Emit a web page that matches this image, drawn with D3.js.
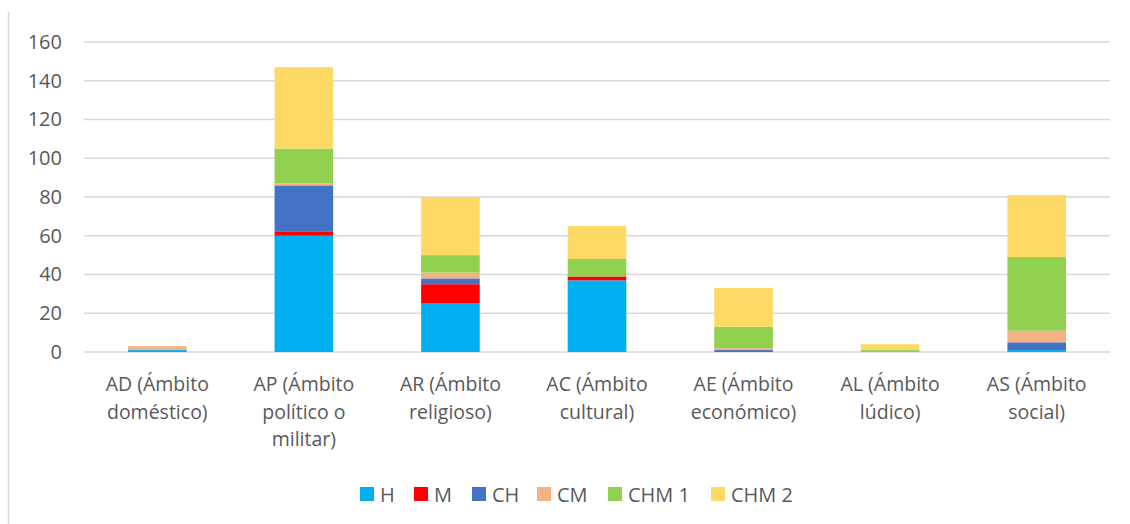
<!DOCTYPE html>
<html>
<head>
<meta charset="utf-8">
<script src="https://cdn.jsdelivr.net/npm/d3@7"></script>
<style>
  body { margin: 0; background: #fff; }
  text { font-family: "Open Sans", "Noto Sans", "DejaVu Sans", sans-serif; fill: #595959; }
</style>
</head>
<body>
<div id="chart"></div>
<script>
// Chart data
var categories = [
  ["AD (Ámbito", "doméstico)"],
  ["AP (Ámbito", "político o", "militar)"],
  ["AR (Ámbito", "religioso)"],
  ["AC (Ámbito", "cultural)"],
  ["AE (Ámbito", "económico)"],
  ["AL (Ámbito", "lúdico)"],
  ["AS (Ámbito", "social)"]
];
var seriesNames = ["H", "M", "CH", "CM", "CHM 1", "CHM 2"];
var seriesColors = ["#00B0F0", "#FF0000", "#4472C4", "#F4B183", "#92D050", "#FFD966"];
var valH    = [1, 60, 25, 37, 0, 0, 1];
var valM    = [0, 2, 10, 2, 0, 0, 0];
var valCH   = [0, 24, 3, 0, 1, 0, 4];
var valCM   = [2, 1, 3, 0, 1, 0, 6];
var valCHM1 = [0, 18, 9, 9, 11, 1, 38];
var valCHM2 = [0, 42, 30, 17, 20, 3, 32];
var yTicks = [0, 20, 40, 60, 80, 100, 120, 140, 160];

var svgWidth = 1130, svgHeight = 524;
var margin = {top: 42, right: 20, bottom: 172, left: 84};
var width = 1110 - margin.left;
var height = 352 - margin.top;

var svg = d3.select("#chart").append("svg")
  .attr("width", svgWidth).attr("height", svgHeight);

// left edge of the chart frame
svg.append("line")
  .attr("x1", 8.5).attr("x2", 8.5).attr("y1", 12).attr("y2", svgHeight)
  .attr("stroke", "#d9d9d9").attr("stroke-width", 1.5);

var chartGroup = svg.append("g")
  .attr("transform", `translate(${margin.left}, ${margin.top})`);

// build table for the stack
var allVals = [valH, valM, valCH, valCM, valCHM1, valCHM2];
var table = categories.map(function(c, i) {
  var row = {idx: i};
  seriesNames.forEach(function(s, j) { row[s] = allVals[j][i]; });
  return row;
});
var stacked = d3.stack().keys(seriesNames)(table);

var xBand = d3.scaleBand().domain(d3.range(categories.length)).range([0, width]).padding(0);
var yLinearScale = d3.scaleLinear().domain([0, 160]).range([height, 0]);
var barW = xBand.bandwidth() * 0.4;

// gridlines
chartGroup.append("g").selectAll("line")
  .data(yTicks).enter().append("line")
  .attr("x1", 0).attr("x2", width)
  .attr("y1", d => yLinearScale(d)).attr("y2", d => yLinearScale(d))
  .attr("stroke", "#d9d9d9").attr("stroke-width", 1.3);

// y axis labels
var yAxis = d3.axisLeft(yLinearScale).tickValues(yTicks).tickSize(0).tickPadding(22);
var yAxisDraw = chartGroup.append("g").call(yAxis);
yAxisDraw.select(".domain").remove();
yAxisDraw.selectAll("text").attr("font-size", "20px").style("font-family", null).attr("fill", "#595959");
yAxisDraw.attr("font-family", null);

// stacked bars
chartGroup.selectAll("g.series")
  .data(stacked).enter().append("g")
  .attr("class", "series")
  .attr("fill", (d, i) => seriesColors[i])
  .selectAll("rect")
  .data(d => d).enter().append("rect")
  .attr("x", d => xBand(d.data.idx) + (xBand.bandwidth() - barW) / 2)
  .attr("y", d => yLinearScale(d[1]))
  .attr("width", barW)
  .attr("height", d => yLinearScale(d[0]) - yLinearScale(d[1]));

// category labels
var xLabels = chartGroup.append("g").selectAll("text")
  .data(categories).enter().append("text")
  .attr("text-anchor", "middle")
  .attr("font-size", "19.5px")
  .attr("transform", (d, i) => `translate(${xBand(i) + xBand.bandwidth() / 2}, ${height + 39})`);
xLabels.selectAll("tspan")
  .data(d => d).enter().append("tspan")
  .attr("x", 0)
  .attr("y", (d, i) => i * 27.5)
  .text(d => d);

// legend
var legendX = [360, 414, 472, 537, 608, 711];
var legend = svg.append("g");
var li = legend.selectAll("g").data(seriesNames).enter().append("g")
  .attr("transform", (d, i) => `translate(${legendX[i]}, 494)`);
li.append("rect").attr("x", 0).attr("y", -7).attr("width", 14).attr("height", 14)
  .attr("fill", (d, i) => seriesColors[i]);
li.append("text").attr("x", 20).attr("y", 7.5).attr("font-size", "20px").text(d => d);
</script>
</body>
</html>
